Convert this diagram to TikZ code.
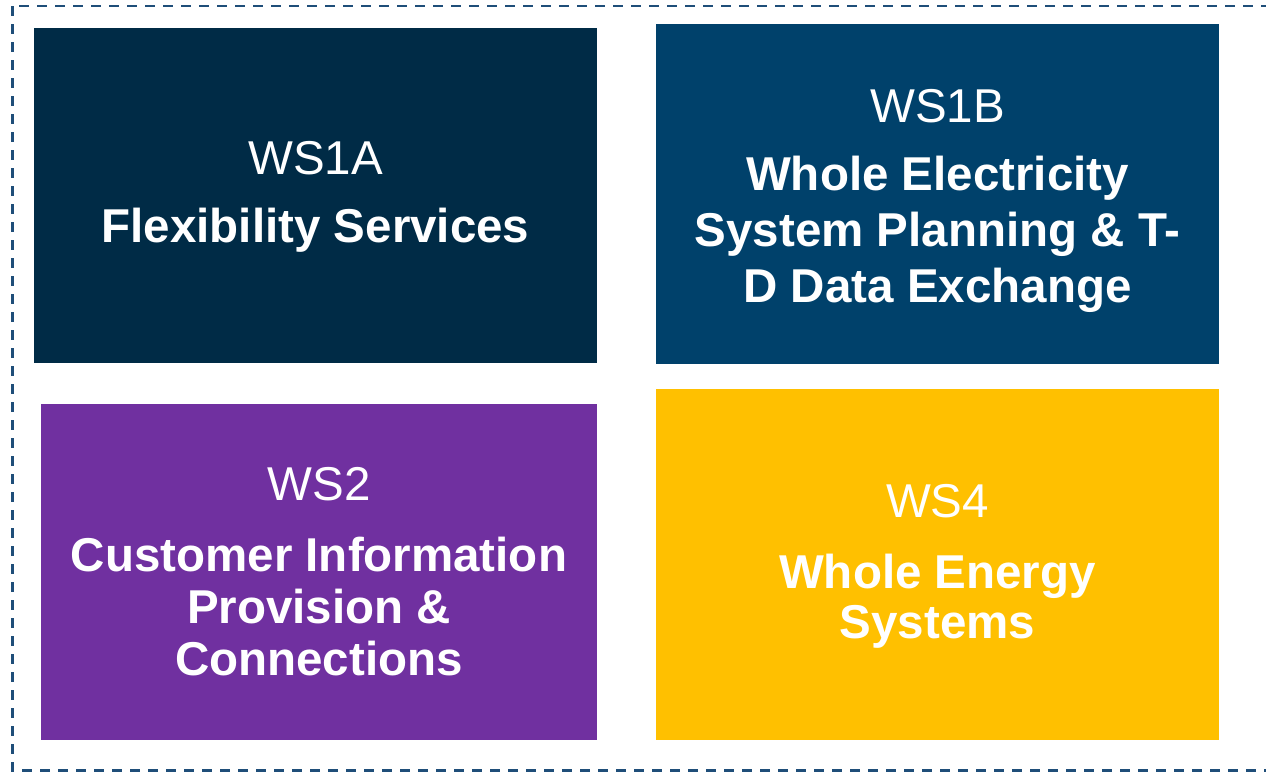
\documentclass[tikz,border=0pt]{standalone}
\usepackage{fontspec}
\setmainfont{Liberation Sans}
\definecolor{navyA}{HTML}{002B46}
\definecolor{navyB}{HTML}{00416B}
\definecolor{purp}{HTML}{7030A0}
\definecolor{gold}{HTML}{FFC000}
\definecolor{frame}{HTML}{1F4E79}
\begin{document}
\begin{tikzpicture}[x=1pt,y=-1pt,
  wsbox/.style={draw=none,inner sep=0pt,outer sep=0pt},
  wslabel/.style={anchor=base,text=white,inner sep=0pt,font=\fontsize{47.5}{54}\selectfont},
  wstitle/.style={anchor=base,text=white,inner sep=0pt,font=\fontsize{47.5}{54}\selectfont\bfseries}]
\useasboundingbox (0,0) rectangle (1266,772);
\clip (0,0) rectangle (1266,772);
\draw[frame,line width=2.4pt,dash pattern=on 10pt off 8pt] (12.5,6) rectangle (1290,770.5);
% boxes
\fill[navyA] (34,28) rectangle (597,363);
\fill[navyB] (656,24) rectangle (1219,364);
\fill[purp] (41,404) rectangle (597,740);
\fill[gold] (656,389) rectangle (1219,740);
\node[wsbox,minimum width=563pt,minimum height=335pt] (a) at (315.5,195.5) {};
\node[wsbox,minimum width=563pt,minimum height=340pt] (b) at (937.5,194) {};
\node[wsbox,minimum width=556pt,minimum height=336pt] (c) at (319,572) {};
\node[wsbox,minimum width=563pt,minimum height=351pt] (d) at (937.5,564.5) {};
% WS1A
\node[wslabel] (a1) at (315.5,174.5) {WS1A};
\node[wstitle] (a2) at (315.5,242) {Flexibility Services};
% WS1B
\node[wslabel] (b1) at (937.5,122) {WS1B};
\node[wstitle] (b2) at (937.5,190) {Whole Electricity};
\node[wstitle] (b3) at (937.5,246.5) {System Planning \& T-};
\node[wstitle] (b4) at (937.5,302) {D Data Exchange};
% WS2
\node[wslabel] (c1) at (319,500) {WS2};
\node[wstitle] (c2) at (319,571) {Customer Information};
\node[wstitle] (c3) at (319,623) {Provision \&};
\node[wstitle] (c4) at (319,675) {Connections};
% WS4
\node[wslabel] (d1) at (937.5,517) {WS4};
\node[wstitle] (d2) at (937.5,588.5) {Whole Energy};
\node[wstitle] (d3) at (937.5,638.5) {Systems};
\end{tikzpicture}
\end{document}
